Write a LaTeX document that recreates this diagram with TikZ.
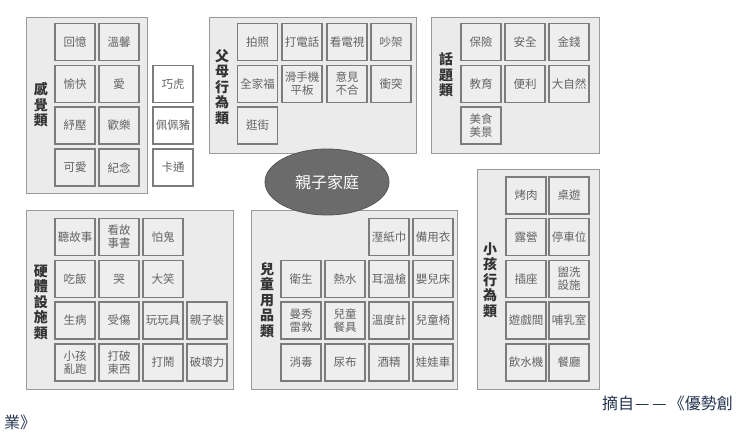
\documentclass[tikz,border=0pt]{standalone}
\usepackage{fontspec}
\setmainfont{Noto Sans CJK TC}
\usetikzlibrary{shapes.geometric}
\definecolor{grpfill}{HTML}{EBEBEB}
\definecolor{grpline}{HTML}{9A9A9A}
\definecolor{cellfill}{HTML}{EEEEEE}
\definecolor{cellline}{HTML}{7C7C7C}
\definecolor{celltext}{HTML}{636363}
\definecolor{labtext}{HTML}{333333}
\definecolor{capcol}{HTML}{24344F}
\definecolor{ellfill}{HTML}{6B6B6B}
\tikzset{
  grp/.style={draw=grpline, fill=grpfill, line width=0.8pt},
  cell/.style={draw=cellline, fill=cellfill, line width=1.1pt, minimum width=40pt, minimum height=37pt, inner sep=0pt, text=celltext, font=\fontsize{11.5}{13}\selectfont, align=center},
  wcell/.style={cell, fill=white},
  lab/.style={text=labtext, font=\bfseries\fontsize{14}{15.5}\selectfont, align=center, inner sep=0pt},
  captext/.style={text=capcol, font=\fontsize{16}{18}\selectfont, inner sep=0pt},
}
\begin{document}
\begin{tikzpicture}[x=1pt,y=-1pt]
\useasboundingbox (0,0) rectangle (740,442);
\fill[white] (0,0) rectangle (740,442);
% group outlines
\draw[grp] (26,17) rectangle (147,193);
\draw[grp] (209,17) rectangle (416,153);
\draw[grp] (431,17) rectangle (599,153);
\draw[grp] (26,210) rectangle (233,389);
\draw[grp] (251,210) rectangle (457,389);
\draw[grp] (477,169) rectangle (599,389);
% labels
\node[lab] (l1) at (41,105) {感\\覺\\類};
\node[lab] (l2) at (222,87) {父\\母\\行\\為\\類};
\node[lab] (l3) at (446,75) {話\\題\\類};
\node[lab] (l4) at (41,302) {硬\\體\\設\\施\\類};
\node[lab] (l5) at (267,300) {兒\\童\\用\\品\\類};
\node[lab] (l6) at (490,280) {小\\孩\\行\\為\\類};
% group 1
\node[cell] (a11) at (75,42) {回憶};
\node[cell] (a12) at (119,42) {溫馨};
\node[cell] (a21) at (75,84) {愉快};
\node[cell] (a22) at (119,84) {愛};
\node[cell] (a31) at (75,125.5) {紓壓};
\node[cell] (a32) at (119,125.5) {歡樂};
\node[cell] (a41) at (75,167.5) {可愛};
\node[cell] (a42) at (119,167.5) {紀念};
\node[wcell] (s1) at (173,84) {巧虎};
\node[wcell] (s2) at (173,125.5) {佩佩豬};
\node[wcell] (s3) at (173,167.5) {卡通};
% group 2
\node[cell] (b11) at (257.5,42) {拍照};
\node[cell] (b12) at (302,42) {打電話};
\node[cell] (b13) at (347,42) {看電視};
\node[cell] (b14) at (391,42) {吵架};
\node[cell] (b21) at (257.5,84) {全家福};
\node[cell] (b22) at (302,84) {滑手機\\平板};
\node[cell] (b23) at (347,84) {意見\\不合};
\node[cell] (b24) at (391,84) {衝突};
\node[cell] (b31) at (257.5,125.5) {逛街};
% group 3
\node[cell] (c11) at (481,42) {保險};
\node[cell] (c12) at (525,42) {安全};
\node[cell] (c13) at (569,42) {金錢};
\node[cell] (c21) at (481,84) {教育};
\node[cell] (c22) at (525,84) {便利};
\node[cell] (c23) at (569,84) {大自然};
\node[cell] (c31) at (481,125.5) {美食\\美景};
% group 4
\node[cell] (d11) at (75,237) {聽故事};
\node[cell] (d12) at (119,237) {看故\\事書};
\node[cell] (d13) at (163,237) {怕鬼};
\node[cell] (d21) at (75,279) {吃飯};
\node[cell] (d22) at (119,279) {哭};
\node[cell] (d23) at (163,279) {大笑};
\node[cell] (d31) at (75,320.5) {生病};
\node[cell] (d32) at (119,320.5) {受傷};
\node[cell] (d33) at (163,320.5) {玩玩具};
\node[cell] (d34) at (207,320.5) {親子裝};
\node[cell] (d41) at (75,362.5) {小孩\\亂跑};
\node[cell] (d42) at (119,362.5) {打破\\東西};
\node[cell] (d43) at (163,362.5) {打鬧};
\node[cell] (d44) at (207,362.5) {破壞力};
% group 5
\node[cell] (e13) at (389,237) {溼紙巾};
\node[cell] (e14) at (433,237) {備用衣};
\node[cell] (e21) at (301,279) {衛生};
\node[cell] (e22) at (345,279) {熱水};
\node[cell] (e23) at (389,279) {耳溫槍};
\node[cell] (e24) at (433,279) {嬰兒床};
\node[cell] (e31) at (301,320.5) {曼秀\\雷敦};
\node[cell] (e32) at (345,320.5) {兒童\\餐具};
\node[cell] (e33) at (389,320.5) {溫度計};
\node[cell] (e34) at (433,320.5) {兒童椅};
\node[cell] (e41) at (301,362.5) {消毒};
\node[cell] (e42) at (345,362.5) {尿布};
\node[cell] (e43) at (389,362.5) {酒精};
\node[cell] (e44) at (433,362.5) {娃娃車};
% group 6
\node[cell] (f11) at (526,195.5) {烤肉};
\node[cell] (f12) at (569,195.5) {桌遊};
\node[cell] (f21) at (526,237) {露營};
\node[cell] (f22) at (569,237) {停車位};
\node[cell] (f31) at (526,279) {插座};
\node[cell] (f32) at (569,279) {盥洗\\設施};
\node[cell] (f41) at (526,320.5) {遊戲間};
\node[cell] (f42) at (569,320.5) {哺乳室};
\node[cell] (f51) at (526,362.5) {飲水機};
\node[cell] (f52) at (569,362.5) {餐廳};
% center
\node[ellipse, draw=ellfill!80!black, fill=ellfill, line width=0.8pt, minimum width=124pt, minimum height=66pt, inner sep=0pt, text=white, font=\fontsize{16}{18}\selectfont] (hub) at (327,182) {親子家庭};
% caption
\node[captext, anchor=east] (cap1) at (733,403) {摘自\kern1pt—\kern3pt—\kern2pt《優勢創};
\node[captext, anchor=west] (cap2) at (4,422) {業》};
\end{tikzpicture}
\end{document}
